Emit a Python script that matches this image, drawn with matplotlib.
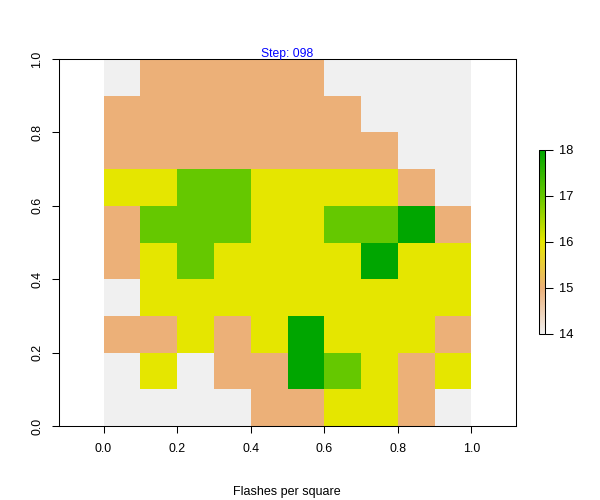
"""Flash density grid at step 098, drawn like an R image.plot."""

import matplotlib
matplotlib.use("Agg")
import matplotlib.pyplot as plt
import numpy as np
from matplotlib.cm import ScalarMappable
from matplotlib.colors import LinearSegmentedColormap, Normalize

plt.rcParams["font.family"] = ["Liberation Sans", "DejaVu Sans"]

# rows run top to bottom, columns left to right
ROW_1 = [14, 15, 15, 15, 15, 15, 14, 14, 14, 14]
ROW_2 = [15, 15, 15, 15, 15, 15, 15, 14, 14, 14]
ROW_3 = [15, 15, 15, 15, 15, 15, 15, 15, 14, 14]
ROW_4 = [16, 16, 17, 17, 16, 16, 16, 16, 15, 14]
ROW_5 = [15, 17, 17, 17, 16, 16, 17, 17, 18, 15]
ROW_6 = [15, 16, 17, 16, 16, 16, 16, 18, 16, 16]
ROW_7 = [14, 16, 16, 16, 16, 16, 16, 16, 16, 16]
ROW_8 = [15, 15, 16, 15, 16, 18, 16, 16, 16, 15]
ROW_9 = [14, 16, 14, 15, 15, 18, 17, 16, 15, 16]
ROW_10 = [14, 14, 14, 14, 15, 15, 16, 16, 15, 14]

AXIS_TICKS = [0.0, 0.2, 0.4, 0.6, 0.8, 1.0]
BAR_TICKS = [14, 15, 16, 17, 18]
LEVEL_COLORS = ["#f0f0f0", "#ecb078", "#e6e600", "#66c800", "#00a600"]

W, H = 600, 500


def main():
    grid = np.array([ROW_1, ROW_2, ROW_3, ROW_4, ROW_5,
                     ROW_6, ROW_7, ROW_8, ROW_9, ROW_10])[::-1]
    cmap = LinearSegmentedColormap.from_list("terrain_r", LEVEL_COLORS, N=256)
    norm = Normalize(BAR_TICKS[0], BAR_TICKS[-1])

    fig = plt.figure(figsize=(W / 100, H / 100), dpi=100)

    # pixel box of the main panel
    ax = fig.add_axes([59.0 / W, 1 - 426 / H, 456.5 / W, 367 / H])
    edges_x = np.linspace(AXIS_TICKS[0], AXIS_TICKS[-1], grid.shape[1] + 1)
    edges_y = np.linspace(AXIS_TICKS[0], AXIS_TICKS[-1], grid.shape[0] + 1)
    ax.pcolormesh(edges_x, edges_y, grid, cmap=cmap, norm=norm, linewidth=0, rasterized=True)

    ax.set_xlim(-0.121, 1.1196)
    ax.set_ylim(0, 1)
    ax.set_xticks(AXIS_TICKS, [f"{t:.1f}" for t in AXIS_TICKS])
    ax.set_yticks(AXIS_TICKS, [f"{t:.1f}" for t in AXIS_TICKS])
    ax.tick_params(axis="both", length=5.2, width=0.75, labelsize=8.9, color="black")
    ax.tick_params(axis="x", pad=7)
    ax.tick_params(axis="y", pad=6)
    for label in ax.get_yticklabels():
        label.set_rotation(90)
        label.set_verticalalignment("center")
    for spine in ax.spines.values():
        spine.set_linewidth(0.75)

    fig.text(287.5 / W, 1 - 53.5 / H, "Step: 098", color="blue", fontsize=8.7,
             ha="center", va="center")
    fig.text(287 / W, 1 - 492 / H, "Flashes per square", color="black", fontsize=9,
             ha="center", va="center")

    # colour bar
    cax = fig.add_axes([538.5 / W, 1 - 334 / H, 6 / W, 184 / H])
    bar = fig.colorbar(ScalarMappable(norm=norm, cmap=cmap), cax=cax, ticks=BAR_TICKS)
    bar.outline.set_linewidth(0.75)
    bar.ax.tick_params(length=5.6, width=0.75, labelsize=9.3, pad=5)

    fig.savefig("out.png", dpi=100, facecolor="white")


if __name__ == "__main__":
    main()
